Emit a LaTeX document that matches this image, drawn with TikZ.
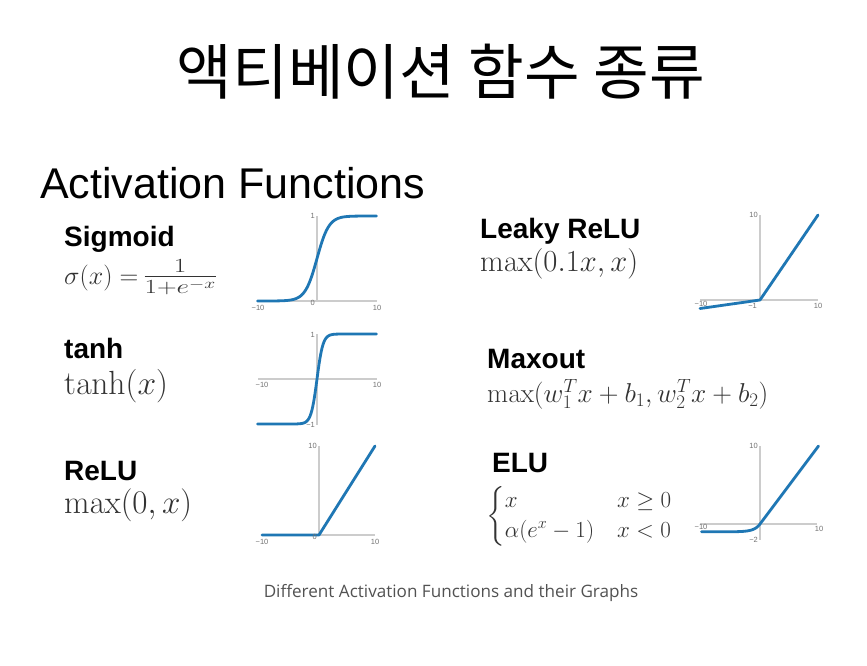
\RequirePackage{fix-cm}
\documentclass[tikz,border=0pt]{standalone}
\usepackage{amsmath}
\usepackage[no-math]{fontspec}
\setmainfont{Liberation Sans}
\newfontfamily\krfont{Noto Sans CJK KR}
\newfontfamily\capfont{Open Sans}
\definecolor{curveblue}{HTML}{1F77B4}
\definecolor{fmlgray}{HTML}{333333}
\tikzset{
  head/.style={anchor=base west, inner sep=0, font=\bfseries\fontsize{28}{30}\selectfont},
  fml/.style={anchor=base west, inner sep=0, text=fmlgray},
  axisl/.style={draw=black!20, line width=1.2},
  curve/.style={draw=curveblue, line width=2.8, line cap=round, line join=round},
  ticklbl/.style={font=\fontsize{7.5}{8}\selectfont, text=black!55, inner sep=0}
}
\begin{document}
\begin{tikzpicture}[x=1pt,y=-1pt]
\useasboundingbox[fill=white] (0,0) rectangle (867,665);

% title
\node[font=\krfont\fontsize{60.5}{64}\selectfont, inner sep=0] (title) at (441,72) {액티베이션 함수 종류};
\node[anchor=base west, inner sep=0, font=\fontsize{43}{46}\selectfont] (heading) at (40,198) {Activation Functions};

% left column labels
\node[head] (sig) at (64,246) {Sigmoid};
\node[fml, font=\fontsize{26}{28}\selectfont] (sigf) at (64,284) {$\sigma(x)=$\,\scalebox{1.5}[1.1]{$\frac{1}{1+e^{-x}}$}};
\node[head] (tanhl) at (64,358) {tanh};
\node[fml, font=\fontsize{33.5}{35}\selectfont] (tanhf) at (64,394) {$\tanh(x)$};
\node[head] (relu) at (64,480) {ReLU};
\node[fml, font=\fontsize{33}{35}\selectfont] (reluf) at (64,513) {$\max(0,x)$};

% right column labels
\node[head] (leaky) at (480,238) {Leaky ReLU};
\node[fml, font=\fontsize{30.6}{32}\selectfont] (leakyf) at (480,271) {$\max(0.1x,x)$};
\node[head] (maxout) at (487,368) {Maxout};
\node[fml, font=\fontsize{27.3}{29}\selectfont] (maxoutf) at (487,402) {$\max(w_1^Tx+b_1,w_2^Tx+b_2)$};
\node[head] (elu) at (492,472) {ELU};
\node[fml, font=\fontsize{23}{25}\selectfont, anchor=west] (eluf) at (486,516) {$\begin{cases} x & x\geq 0\\ \alpha(e^x-1) & x<0\end{cases}$};

% ---- Sigmoid plot
\draw[axisl] (258,301) -- (377,301);
\draw[axisl] (317,216) -- (317,301);
\draw[curve] plot[domain=-10:0,samples=60] ({317+5.95*\x},{301-85*exp(\x)/(1+exp(\x))})
  -- plot[domain=0:10,samples=60] ({317+5.95*\x},{301-85/(1+exp(-\x))});
\node[ticklbl, anchor=east] (s1) at (315,216) {1};
\node[ticklbl, anchor=north east] (s0) at (315,300) {0};
\node[ticklbl, anchor=north] (sm) at (258,305) {−10};
\node[ticklbl, anchor=north] (sp) at (377,305) {10};

% ---- tanh plot
\draw[axisl] (258,379) -- (377,379);
\draw[axisl] (317,334) -- (317,425);
\draw[curve] plot[domain=-10:0,samples=60] ({317+5.95*\x},{379-45*(exp(2*\x)-1)/(exp(2*\x)+1)})
  -- plot[domain=0:10,samples=60] ({317+5.95*\x},{379-45*(1-exp(-2*\x))/(1+exp(-2*\x))});
\node[ticklbl, anchor=east] (t1) at (315,335) {1};
\node[ticklbl, anchor=east] (tm1) at (315,425) {−1};
\node[ticklbl, anchor=north] (tm) at (262,382) {−10};
\node[ticklbl, anchor=north] (tp) at (377,382) {10};

% ---- ReLU plot
\draw[axisl] (262,535) -- (375,535);
\draw[axisl] (319,446) -- (319,535);
\draw[curve] (262,535) -- (319,535) -- (375,446);
\node[ticklbl, anchor=east] (r10) at (317,446) {10};
\node[ticklbl, anchor=north east] (r0) at (317,534) {0};
\node[ticklbl, anchor=north] (rm) at (262,539) {−10};
\node[ticklbl, anchor=north] (rp) at (375,539) {10};

% ---- Leaky ReLU plot
\draw[axisl] (700,300) -- (818,300);
\draw[axisl] (760,215) -- (760,300);
\node[ticklbl, anchor=north] (lm) at (701,301) {−10};
\draw[curve] (700,308.5) -- (760,300) -- (818,215);
\node[ticklbl, anchor=east] (l10) at (758,215) {10};
\node[ticklbl, anchor=north east] (lm1) at (757,303) {−1};
\node[ticklbl, anchor=north] (lp) at (818,303) {10};

% ---- ELU plot
\draw[axisl] (700,524) -- (817,524);
\draw[axisl] (760,446) -- (760,540);
\node[ticklbl, anchor=north] (em) at (701,524) {−10};
\draw[curve] plot[domain=-10:0,samples=60] ({760+5.85*\x},{524-7.8*(exp(\x)-1)}) -- (818.5,446);
\node[ticklbl, anchor=east] (e10) at (758,446) {10};
\node[ticklbl, anchor=east] (em2) at (758,540) {−2};
\node[ticklbl, anchor=north] (ep) at (819,526) {10};

% caption
\node[font=\capfont\fontsize{17.1}{20}\selectfont, text=black!68, inner sep=0] (cap) at (451,593) {Different Activation Functions and their Graphs};
\end{tikzpicture}
\end{document}
